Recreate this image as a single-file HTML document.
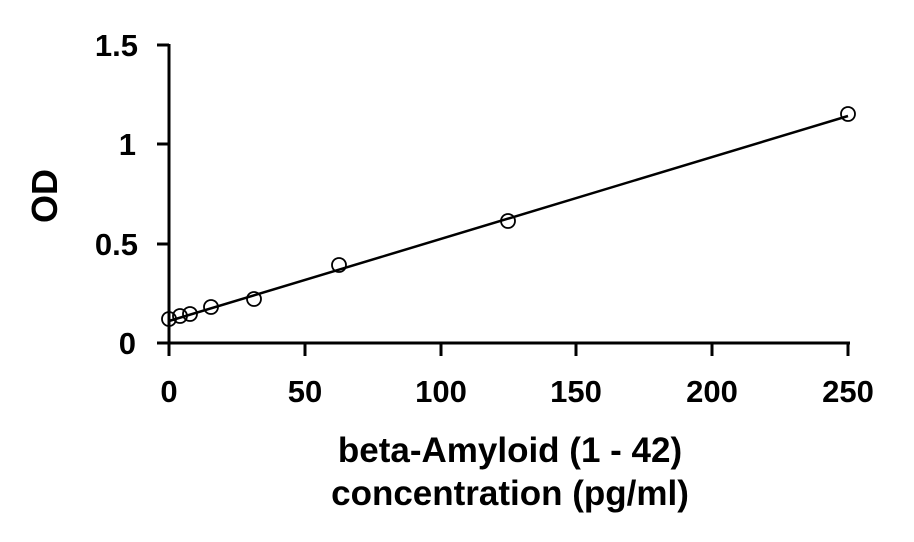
<!DOCTYPE html>
<html><head><style>body{margin:0;background:#fff}</style></head><body>
<svg width="914" height="537" xmlns="http://www.w3.org/2000/svg" font-family="Liberation Sans, sans-serif" font-weight="bold">
<g stroke="#000" stroke-width="3" fill="none">
<line x1="169" y1="44" x2="169" y2="356"/>
<line x1="157" y1="343" x2="850" y2="343"/>
<line x1="157" y1="45" x2="169" y2="45"/>
<line x1="157" y1="144" x2="169" y2="144"/>
<line x1="157" y1="244" x2="169" y2="244"/>
<line x1="305" y1="343" x2="305" y2="356"/>
<line x1="441" y1="343" x2="441" y2="356"/>
<line x1="576" y1="343" x2="576" y2="356"/>
<line x1="712" y1="343" x2="712" y2="356"/>
<line x1="848" y1="343" x2="848" y2="356"/>
</g>
<line x1="169" y1="321" x2="848" y2="116" stroke="#000" stroke-width="2.5"/>
<g stroke="#000" stroke-width="1.8" fill="none">
<circle cx="169" cy="319" r="7"/>
<circle cx="180" cy="316" r="7"/>
<circle cx="190" cy="314" r="7"/>
<circle cx="211" cy="307" r="7"/>
<circle cx="254" cy="299" r="7"/>
<circle cx="339" cy="265" r="7"/>
<circle cx="508" cy="221" r="7"/>
<circle cx="848" cy="114" r="7"/>
</g>
<g font-size="31" text-anchor="end">
<text x="138" y="56">1.5</text>
<text x="136" y="155">1</text>
<text x="138" y="255">0.5</text>
<text x="136" y="354">0</text>
</g>
<g font-size="31" text-anchor="middle">
<text x="169" y="402">0</text>
<text x="305" y="402">50</text>
<text x="441" y="402">100</text>
<text x="576" y="402">150</text>
<text x="712" y="402">200</text>
<text x="848" y="402">250</text>
</g>
<g font-size="35" text-anchor="middle">
<text x="510" y="462">beta-Amyloid (1 - 42)</text>
<text x="510" y="505">concentration (pg/ml)</text>
<text transform="translate(57,196) rotate(-90)" font-size="36">OD</text>
</g>
</svg>
</body></html>
